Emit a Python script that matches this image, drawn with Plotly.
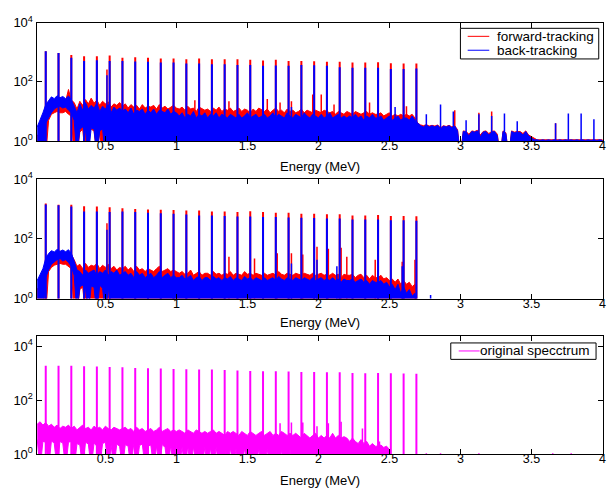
import plotly.graph_objects as go

# ---------------- data ----------------
# bin axis of the continuum readings (MeV)
bin_start = 0.02
bin_width = 0.02

# full-energy peak positions (MeV)
peak_energy = [0.08, 0.17, 0.26, 0.35, 0.44, 0.53, 0.62, 0.71, 0.80, 0.89,
               0.98, 1.07, 1.16, 1.25, 1.34, 1.43, 1.52, 1.61, 1.70, 1.79,
               1.88, 1.97, 2.06, 2.15, 2.24, 2.33, 2.42, 2.51, 2.60, 2.69]

# ---- panel 1 ----
p1_fwd_peaks = [1070, 930, 795, 725, 725, 775, 645, 675, 645, 615,
                615, 575, 615, 575, 575, 575, 555, 525, 555, 500,
                500, 490, 470, 470, 445, 445, 455, 425, 415, 415]
p1_back_peaks = [1070, 930, 645, 500, 535, 500, 500, 480, 470, 445,
                 445, 415, 415, 390, 390, 370, 370, 345, 355, 345,
                 370, 360, 345, 310, 300, 300, 295, 270, 270, 280]

p1_fwd_hi = [1.5, 2, 2, 3, 15, 22, 20, 24, 21, 23,
             22, 55, 24, 20, 12, 22, 16, 25, 18, 28,
             19, 24, 16, 22, 18, 21, 14, 18, 16, 20,
             15, 18, 13, 17, 14, 16, 12, 17, 13, 15,
             14, 16, 12, 17, 13, 15, 12, 14, 16, 13,
             12, 14, 11, 15, 12, 13, 10, 14, 12, 11,
             12, 10, 13, 11, 14, 10, 12, 11, 13, 10,
             11, 13, 10, 12, 11, 9, 12, 10, 13, 11,
             10, 12, 9, 11, 13, 10, 11, 9, 12, 10,
             11, 9, 10, 12, 9, 11, 10, 9, 11, 10,
             9, 11, 10, 9, 10, 8, 10, 9, 8, 10,
             9, 8, 10, 9, 8, 9, 10, 8, 9, 8,
             8, 9, 7, 8, 9, 7, 8, 7, 8, 7,
             8, 7, 8, 6, 4, 3.5, 3.3, 3.6, 3.2, 3.4,
             3.2, 3.5, 2.8, 3.3, 3.1, 3.4, 3, 3.3, 2.4, 0,
             2.2, 2.1, 1.7, 2.2, 2.1, 2.3, 1.6, 2.1, 2.2, 1.8,
             2.1, 2.2, 1.7, 0, 2.2, 1.9, 0, 2.2, 2, 2.1,
             2.1, 1.8, 2.2, 1.6, 1.4, 1.2, 1.1, 1.1, 1.1, 1.1,
             1.1, 1.1, 1.1, 1.1, 1.1, 1.1, 1.1, 1.1, 1.1, 1.1,
             1.1, 1.1, 1.1, 1.1, 1.1, 1.1, 1.1, 1.1, 1.1, 1.1]
p1_fwd_lo = [0, 0, 0, 0, 5, 8, 9, 10, 9, 9,
             10, 8, 7, 0, 0, 2, 2.5, 0, 2, 2.5,
             2.2, 0, 2, 0, 0, 0, 0, 0, 0, 0,
             0, 0, 0, 0, 0, 0, 0, 0, 0, 0,
             0, 0, 0, 0, 0, 0, 0, 0, 0, 0,
             0, 0, 0, 0, 0, 0, 0, 0, 0, 0,
             0, 0, 0, 0, 0, 0, 0, 0, 0, 0,
             0, 0, 0, 0, 0, 0, 0, 0, 0, 0,
             0, 0, 0, 0, 0, 0, 0, 0, 0, 0,
             0, 0, 0, 0, 0, 0, 0, 0, 0, 0,
             0, 0, 0, 0, 0, 0, 0, 0, 0, 0,
             0, 0, 0, 0, 0, 0, 0, 0, 0, 0,
             0, 0, 0, 0, 0, 0, 0, 0, 0, 0,
             0, 0, 0, 0, 0, 0, 0, 0, 0, 0,
             0, 0, 0, 0, 0, 0, 0, 0, 0, 0,
             0, 0, 0, 0, 0, 0, 0, 0, 0, 0,
             0, 0, 0, 0, 0, 0, 0, 0, 0, 0,
             0, 0, 0, 0, 0, 0, 0, 0, 0, 0,
             0, 0, 0, 0, 0, 0, 0, 0, 0, 0,
             0, 0, 0, 0, 0, 0, 0, 0, 0, 0]
p1_back_hi = [3, 5, 9, 17, 24, 31, 27, 34, 29, 32,
              27, 33, 25, 15, 9, 18, 11, 20, 12, 16,
              13, 19, 10, 15, 12, 17, 9, 14, 11, 13,
              10, 12, 9, 13, 8, 11, 10, 12, 8, 11,
              9, 12, 8, 11, 10, 9, 12, 8, 10, 9,
              7, 9, 6, 8, 7, 10, 6, 8, 7, 9,
              6, 8, 7, 9, 6, 8, 7, 6, 8, 7,
              6, 8, 6, 7, 9, 6, 7, 8, 6, 7,
              8, 6, 7, 9, 6, 8, 7, 6, 9, 7,
              6, 8, 7, 6, 9, 7, 6, 8, 7, 6,
              8, 6, 7, 9, 6, 7, 8, 6, 7, 6,
              7, 6, 8, 6, 7, 5, 7, 6, 8, 6,
              6, 7, 5, 6, 7, 5, 6, 7, 5, 6,
              6, 5, 7, 5, 4, 3.3, 3, 3.5, 3, 3.3,
              3, 3.4, 2.5, 3.2, 3, 3.3, 2.8, 3.2, 2.2, 0,
              2.1, 2, 1.5, 2.1, 2, 2.2, 1.4, 2, 2.1, 1.6,
              2, 2.1, 1.5, 0, 2.1, 1.8, 0, 2.1, 1.9, 2,
              2, 1.6, 2.1, 1.5, 1.3, 1.1, 1.1, 1.05, 1.1, 1.05,
              1.1, 1.05, 1.1, 1.05, 1.1, 1.05, 1.1, 1.05, 1.1, 1.05,
              1.1, 1.05, 1.1, 1.05, 1.1, 1.05, 1.1, 1.05, 1.1, 1.05]
p1_back_lo = [0, 0, 0, 4, 6, 9, 12, 14, 15, 13,
              14, 11, 9, 5, 0, 2.5, 3, 2.2, 0, 2.8,
              2.5, 0, 2.2, 2.6, 0, 0, 0, 0, 0, 0,
              0, 0, 0, 0, 0, 0, 0, 0, 0, 0,
              0, 0, 0, 0, 0, 0, 0, 0, 0, 0,
              0, 0, 0, 0, 0, 0, 0, 0, 0, 0,
              0, 0, 0, 0, 0, 0, 0, 0, 0, 0,
              0, 0, 0, 0, 0, 0, 0, 0, 0, 0,
              0, 0, 0, 0, 0, 0, 0, 0, 0, 0,
              0, 0, 0, 0, 0, 0, 0, 0, 0, 0,
              0, 0, 0, 0, 0, 0, 0, 0, 0, 0,
              0, 0, 0, 0, 0, 0, 0, 0, 0, 0,
              0, 0, 0, 0, 0, 0, 0, 0, 0, 0,
              0, 0, 0, 0, 0, 0, 0, 0, 0, 0,
              0, 0, 0, 0, 0, 0, 0, 0, 0, 0,
              0, 0, 0, 0, 0, 0, 0, 0, 0, 0,
              0, 0, 0, 0, 0, 0, 0, 0, 0, 0,
              0, 0, 0, 0, 0, 0, 0, 0, 0, 0,
              0, 0, 0, 0, 0, 0, 0, 0, 0, 0,
              0, 0, 0, 0, 0, 0, 0, 0, 0, 0]
p1_fwd_minor_e = [0.511, 1.13, 1.37, 1.64, 1.73, 1.81, 1.96, 2.02, 2.11, 2.36, 2.62, 2.96, 3.13, 3.22, 3.67]
p1_fwd_minor_h = [260, 24, 22, 26, 20, 22, 37, 37, 17, 20, 15, 11, 9, 10, 4]
p1_back_minor_e = [0.511, 1.81, 2.54, 2.76, 2.86, 2.95, 3.04, 3.13, 3.22, 3.31, 3.40, 3.67, 3.76, 3.85, 3.94]
p1_back_minor_h = [165, 14, 14, 8, 17, 10, 5, 8, 7, 8.5, 4.7, 4, 8.5, 8.5, 5.4]

# ---- panel 2 ----
p2_fwd_peaks = [1515, 1380, 1380, 1230, 1200, 1125, 1050, 1000, 955, 930,
                910, 890, 890, 815, 815, 780, 830, 780, 745, 745,
                690, 690, 660, 660, 605, 605, 620, 575, 575, 565]
p2_back_peaks = [1410, 1320, 1200, 815, 815, 780, 815, 780, 745, 720,
                 690, 650, 605, 605, 580, 560, 560, 540, 540, 515,
                 510, 500, 475, 475, 445, 445, 445, 420, 420, 400]
p2_fwd_hi = [2, 3, 4, 8, 24, 33, 30, 36, 32, 35,
             31, 36, 30, 20, 12, 14, 10, 15, 11, 13,
             12, 15, 10, 13, 11, 14, 10, 12, 9, 11,
             10, 12, 9, 11, 8, 12, 9, 10, 8, 10,
             9, 8, 10, 12, 8, 9, 10, 8, 9, 8,
             7, 8, 6.5, 7, 9, 6, 7, 8, 6, 7,
             7, 6, 8, 6.5, 7, 6, 7, 6.5, 8, 6,
             7, 6.5, 6, 8, 6.5, 7, 6, 7, 6.5, 6,
             7, 6, 6.5, 7, 6, 8, 6.5, 6, 7, 6.5,
             6, 7, 6.5, 6, 7, 6.5, 6, 7, 6, 6.5,
             7, 6, 6.5, 6, 7, 6, 6.5, 5, 6.5, 6,
             6, 6.5, 5, 6, 6.5, 5, 6, 4.5, 6, 5,
             5, 6, 4.5, 5, 4, 4.5, 3.5, 4.5, 3, 4,
             3, 3.5, 2.5, 3, 0, 0, 0, 0, 0, 0]
p2_fwd_lo = [0, 0, 0, 0, 8, 11, 13, 14, 15, 14,
             14, 12, 10, 0, 0, 2, 2.4, 0, 2.2, 0,
             0, 0, 0, 0, 0, 0, 0, 0, 0, 0,
             0, 0, 0, 0, 0, 0, 0, 0, 0, 0,
             0, 0, 0, 0, 0, 0, 0, 0, 0, 0,
             0, 0, 0, 0, 0, 0, 0, 0, 0, 0,
             0, 0, 0, 0, 0, 0, 0, 0, 0, 0,
             0, 0, 0, 0, 0, 0, 0, 0, 0, 0,
             0, 0, 0, 0, 0, 0, 0, 0, 0, 0,
             0, 0, 0, 0, 0, 0, 0, 0, 0, 0,
             0, 0, 0, 0, 0, 0, 0, 0, 0, 0,
             0, 0, 0, 0, 0, 0, 0, 0, 0, 0,
             0, 0, 0, 0, 0, 0, 0, 0, 0, 0,
             0, 0, 0, 0, 0, 0, 0, 0, 0, 0]
p2_back_hi = [4, 6, 10, 22, 32, 40, 36, 44, 38, 42,
              37, 43, 33, 18, 9, 8, 6, 9, 7, 8,
              9, 6, 8, 7, 9, 6, 8, 7, 9, 6,
              7, 8, 6, 7, 5, 8, 6, 7, 5, 6,
              7, 5, 6, 8, 5, 6, 7, 5, 6, 5,
              5, 6, 4.5, 5, 6, 4, 5, 5.5, 4, 5,
              5, 4, 5.5, 4.5, 5, 4, 5, 4.5, 5.5, 4,
              5, 4.5, 4, 5.5, 4.5, 5, 4, 5, 4.5, 4,
              5, 4, 4.5, 5, 4, 5.5, 4.5, 4, 5, 4.5,
              4, 5, 4.5, 4, 5, 4.5, 4, 5, 4, 4.5,
              5, 4, 4.5, 4, 5, 4, 4.5, 3.5, 4.5, 4,
              4, 4.5, 3.5, 4, 4.5, 3.5, 4, 3, 4, 3.5,
              3.5, 4, 3, 3.5, 2.5, 3, 2, 3, 1.5, 2.5,
              1.5, 2, 1.2, 1.5, 0, 0, 0, 0, 0, 0]
p2_back_lo = [0, 0, 0, 5, 9, 14, 17, 20, 22, 18,
              20, 16, 12, 6, 0, 2.5, 2.8, 2, 0, 2.6,
              2.4, 0, 2.8, 2.2, 0, 2.5, 0, 0, 0, 0,
              0, 0, 0, 0, 0, 0, 0, 0, 0, 0,
              0, 0, 0, 0, 0, 0, 0, 0, 0, 0,
              0, 0, 0, 0, 0, 0, 0, 0, 0, 0,
              0, 0, 0, 0, 0, 0, 0, 0, 0, 0,
              0, 0, 0, 0, 0, 0, 0, 0, 0, 0,
              0, 0, 0, 0, 0, 0, 0, 0, 0, 0,
              0, 0, 0, 0, 0, 0, 0, 0, 0, 0,
              0, 0, 0, 0, 0, 0, 0, 0, 0, 0,
              0, 0, 0, 0, 0, 0, 0, 0, 0, 0,
              0, 0, 0, 0, 0, 0, 0, 0, 0, 0,
              0, 0, 0, 0, 0, 0, 0, 0, 0, 0]
p2_fwd_minor_e = [0.511, 1.37, 1.55, 1.71, 1.81, 1.89, 1.99, 2.07, 2.16, 2.20, 2.40, 2.59, 2.68]
p2_fwd_minor_h = [330, 25, 22, 33, 33, 30, 54, 46, 50, 25, 20, 17, 20]
p2_back_minor_e = [0.511, 1.81, 1.99, 2.13, 2.59, 2.79]
p2_back_minor_h = [200, 15, 20, 12, 12, 1.3]

# ---- panel 3 ----
p3_orig_peaks = [1860, 1860, 1860, 1780, 1750, 1700, 1650, 1550, 1520, 1480,
                 1410, 1380, 1350, 1350, 1300, 1260, 1200, 1175, 1175, 1150,
                 1100, 1100, 1080, 1080, 1020, 1000, 1020, 1000, 980, 955]
p3_orig_hi = [13, 16, 12, 15, 11, 13, 10, 12, 9, 11,
              10, 12, 9, 11, 8, 10, 12, 9, 10, 8,
              11, 9, 10, 8, 11, 9, 8, 10, 9, 8,
              9, 10, 8, 9, 7, 10, 8, 9, 7, 8,
              9, 7, 8, 10, 7, 8, 9, 7, 8, 7,
              8, 7, 6, 8, 7, 6, 8, 7, 6, 7,
              6, 7, 8, 6, 7, 6, 5, 7, 6, 7,
              6, 5, 7, 6, 5, 7, 6, 5, 6, 7,
              5, 6, 7, 5, 6, 5, 7, 6, 5, 6,
              5, 6, 5, 4, 6, 5, 4, 5, 6, 4,
              5, 4, 5, 4, 6, 4, 5, 4, 4.5, 4,
              3, 4, 3, 2.5, 3.5, 2.5, 3, 2, 2.5, 2,
              2, 2.2, 1.8, 2, 1.5, 0]
p3_orig_lo = [3.5, 0, 3, 2.8, 0, 3.2, 2.5, 0, 3, 2.6,
              0, 2.8, 3, 0, 2.5, 2.2, 0, 2.8, 2.4, 0,
              2.6, 2, 0, 2.5, 2.8, 0, 2.2, 0, 2.4, 2,
              0, 2.3, 2, 0, 2.5, 0, 2.1, 2.4, 0, 2,
              2.2, 0, 2, 0, 2.3, 1.8, 0, 2.1, 0, 2,
              0, 1.8, 0, 2, 0, 1.9, 0, 1.7, 0, 1.8,
              0, 1.7, 0, 1.8, 0, 0, 1.6, 0, 1.7, 0,
              1.6, 0, 0, 1.7, 0, 1.5, 0, 0, 1.6, 0,
              0, 1.5, 0, 0, 1.6, 0, 1.4, 0, 0, 1.5,
              0, 0, 0, 0, 0, 0, 0, 0, 0, 0,
              0, 0, 0, 0, 0, 0, 0, 0, 0, 0,
              0, 0, 0, 0, 0, 0, 0, 0, 0, 0,
              0, 0, 0, 0, 0, 0]
p3_orig_minor_e = [1.73, 1.81, 1.89, 1.99, 2.07, 2.16, 2.31, 2.43, 2.76, 2.86, 3.13, 3.65, 3.78]
p3_orig_minor_h = [14, 15, 15, 11, 14, 16, 9, 3, 1.1, 1.1, 1.1, 1.1, 1.1]

x_tick_vals = [0.5, 1, 1.5, 2, 2.5, 3, 3.5, 4]
x_tick_text = ["0.5", "1", "1.5", "2", "2.5", "3", "3.5", "4"]
y_tick_vals = [1, 100, 10000]
y_tick_text = ["10<sup>0</sup>", "10<sup>2</sup>", "10<sup>4</sup>"]

RED = "#FF0000"
BLUE = "#0000FF"
MAGENTA = "#FF00FF"
FLOOR = 0.3          # zero counts are drawn below the log-axis bottom
FONT = "Liberation Sans, Arial, Helvetica, sans-serif"


def band(hi, lo, color, xa, ya):
    assert len(hi) == len(lo)
    xs = [bin_start + bin_width * i for i in range(len(hi))]
    yh = [v if v > 0 else FLOOR for v in hi]
    yl = [v if v > 0 else FLOOR for v in lo]
    return go.Scatter(x=xs + xs[::-1], y=yh + yl[::-1], mode="lines",
                      fill="toself", fillcolor=color,
                      line=dict(color=color, width=1),
                      xaxis=xa, yaxis=ya, hoverinfo="skip", showlegend=False)


def sticks(pos, h, color, width, xa, ya):
    x, y = [], []
    for p, v in zip(pos, h):
        x += [p, p, None]
        y += [FLOOR, v, None]
    return go.Scatter(x=x, y=y, mode="lines", line=dict(color=color, width=width),
                      xaxis=xa, yaxis=ya, hoverinfo="skip", showlegend=False)


fig = go.Figure()
# panel 1
fig.add_trace(band(p1_fwd_hi, p1_fwd_lo, RED, "x", "y"))
fig.add_trace(sticks(p1_fwd_minor_e, p1_fwd_minor_h, RED, 1.5, "x", "y"))
fig.add_trace(sticks(peak_energy, p1_fwd_peaks, RED, 2, "x", "y"))
fig.add_trace(band(p1_back_hi, p1_back_lo, BLUE, "x", "y"))
fig.add_trace(sticks(p1_back_minor_e, p1_back_minor_h, BLUE, 1.5, "x", "y"))
fig.add_trace(sticks(peak_energy, p1_back_peaks, BLUE, 2, "x", "y"))
# panel 2
fig.add_trace(band(p2_fwd_hi, p2_fwd_lo, RED, "x2", "y2"))
fig.add_trace(sticks(p2_fwd_minor_e, p2_fwd_minor_h, RED, 1.5, "x2", "y2"))
fig.add_trace(sticks(peak_energy, p2_fwd_peaks, RED, 2, "x2", "y2"))
fig.add_trace(band(p2_back_hi, p2_back_lo, BLUE, "x2", "y2"))
fig.add_trace(sticks(p2_back_minor_e, p2_back_minor_h, BLUE, 1.5, "x2", "y2"))
fig.add_trace(sticks(peak_energy, p2_back_peaks, BLUE, 2, "x2", "y2"))
# panel 3
fig.add_trace(band(p3_orig_hi, p3_orig_lo, MAGENTA, "x3", "y3"))
fig.add_trace(sticks(p3_orig_minor_e, p3_orig_minor_h, MAGENTA, 1.5, "x3", "y3"))
fig.add_trace(sticks(peak_energy, p3_orig_peaks, MAGENTA, 2, "x3", "y3"))

W, H = 609, 500
def px(v):  # horizontal pixel -> paper
    return v / W
def py(v):  # vertical pixel (from top) -> paper
    return 1 - v / H

xdom = [px(36.7), px(605.7)]
common_x = dict(range=[0.015, 4.002], tickmode="array", tickvals=x_tick_vals, ticktext=x_tick_text,
                ticks="inside", ticklen=5, tickwidth=1, tickcolor="black",
                showline=True, linecolor="black", linewidth=1, mirror="ticks",
                showgrid=False, zeroline=False, domain=xdom, ticklabelstandoff=-7,
                tickfont=dict(family=FONT, size=12.5, color="black"))
common_y = dict(type="log", tickmode="array", tickvals=y_tick_vals, ticktext=y_tick_text,
                ticks="inside", ticklen=5, tickwidth=1, tickcolor="black",
                showline=True, linecolor="black", linewidth=1, mirror="ticks",
                showgrid=False, zeroline=False,
                tickfont=dict(family=FONT, size=13, color="black"))

fig.update_layout(
    width=W, height=H, margin=dict(l=0, r=0, t=0, b=0),
    paper_bgcolor="white", plot_bgcolor="white", showlegend=False,
    font=dict(family=FONT, color="black"),
    xaxis=dict(common_x, anchor="y"),
    xaxis2=dict(common_x, anchor="y2"),
    xaxis3=dict(common_x, anchor="y3"),
    yaxis=dict(common_y, anchor="x", range=[0, 4], domain=[py(136.7), py(14)]),
    yaxis2=dict(common_y, anchor="x2", range=[0, 4], domain=[py(299.7), py(176)]),
    yaxis3=dict(common_y, anchor="x3", range=[0, 4.38], domain=[py(461), py(338.3)]),
)

# axis titles
for ytitle in (163, 325, 488):
    fig.add_annotation(text="Energy (MeV)", xref="paper", yref="paper",
                       x=(xdom[0] + xdom[1]) / 2, y=py(ytitle), xanchor="center", yanchor="middle",
                       showarrow=False, font=dict(family=FONT, size=13, color="black"))

# legend, panel 1
fig.add_shape(type="rect", xref="paper", yref="paper", x0=px(462.7), x1=px(601.7), y0=py(51.7), y1=py(20),
              line=dict(color="black", width=1), fillcolor="white", layer="above")
for name, color, yy in (("forward-tracking", RED, 28.3), ("back-tracking", BLUE, 42.7)):
    fig.add_shape(type="line", xref="paper", yref="paper", x0=px(470), x1=px(491.7), y0=py(yy), y1=py(yy),
                  line=dict(color=color, width=1), layer="above")
    fig.add_annotation(text=name, xref="paper", yref="paper", x=px(497.5), y=py(yy),
                       xanchor="left", yanchor="middle", showarrow=False,
                       font=dict(family=FONT, size=13.5, color="black"))
# legend, panel 3
fig.add_shape(type="rect", xref="paper", yref="paper", x0=px(453), x1=px(599), y0=py(362.7), y1=py(345.7),
              line=dict(color="black", width=1), fillcolor="white", layer="above")
fig.add_shape(type="line", xref="paper", yref="paper", x0=px(461), x1=px(482), y0=py(354), y1=py(354),
              line=dict(color=MAGENTA, width=1), layer="above")
fig.add_annotation(text="original specctrum", xref="paper", yref="paper", x=px(480.5), y=py(354),
                   xanchor="left", yanchor="middle", showarrow=False,
                   font=dict(family=FONT, size=13.5, color="black"))

fig.write_html("out.html", config={"displayModeBar": False},
               post_script="document.body.style.margin='0px';document.body.style.overflow='hidden';")
